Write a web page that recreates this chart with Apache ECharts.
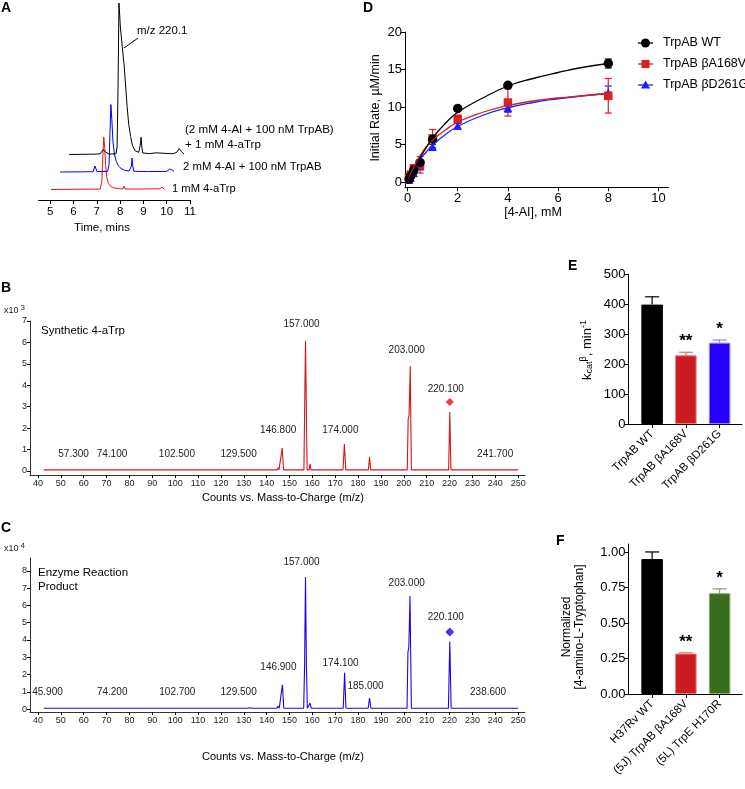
<!DOCTYPE html>
<html><head><meta charset="utf-8">
<script src="https://cdn.jsdelivr.net/npm/echarts@6/dist/echarts.min.js"></script>
<style>html,body{margin:0;padding:0;background:#fff}#c{width:745px;height:789px}</style>
</head><body><div id="c"></div><script>
// ================= DATA =================
// Panel A: LC traces (time in min, intensity in arbitrary units)
const traceRed = [[5.04,0],[5.8,0.1],[6.5,0.2],[6.58,1.3],[6.66,0.2],[7.15,0.3],[7.22,6],[7.26,22],[7.3,35],[7.34,28],[7.38,16],[7.43,8],[7.5,4],[7.6,2],[7.75,1],[8.0,0.5],[8.12,0.4],[8.17,2.2],[8.22,0.3],[8.3,0.2],[9.0,0.3],[9.7,0.5],[9.8,1.6],[9.86,0.6],[9.9,0]];
const traceBlue = [[5.04,0],[6.0,0.1],[6.46,0.2],[6.54,4],[6.62,0.3],[7.08,0.4],[7.14,5],[7.18,25],[7.22,45],[7.26,35],[7.31,20],[7.37,12],[7.45,7],[7.55,4],[7.65,2.5],[7.8,1.2],[8.0,0.6],[8.07,0.6],[8.1,4],[8.13,9.3],[8.16,4],[8.2,0.5],[8.78,0.3],[8.83,1.3],[8.87,0.3],[9.62,0.4],[9.74,2],[9.8,2.7],[9.87,1.2],[9.93,0.3]];
const traceBlack = [[5.04,0],[6.0,0.2],[6.07,1.3],[6.12,0.2],[6.38,0.5],[6.5,3.3],[6.62,1.5],[6.75,0.3],[7.05,0.4],[7.1,5],[7.14,45],[7.18,101],[7.24,85],[7.32,72],[7.4,60],[7.47,45],[7.53,32],[7.6,20],[7.68,12],[7.76,6],[7.87,2.5],[8.03,1.5],[8.09,6],[8.13,11.5],[8.16,5],[8.2,1],[8.5,0.6],[8.77,1.1],[8.82,0.5],[9.5,0.5],[9.66,1.5],[9.76,4],[9.86,2],[9.97,0.3]];
const timeTicks = [5,6,7,8,9,10,11];

// Panels B and C: mass spectra (m/z, counts)
const specB = [[42.5,0.05],[57,0.05],[57.3,0.1],[57.6,0.05],[73.8,0.05],[74.1,0.1],[74.4,0.05],[129.2,0.05],[129.5,0.09],[129.8,0.05],[131.2,0.05],[131.5,0.08],[131.8,0.05],[144.6,0.05],[145,0.15],[145.4,0.05],[146.2,0.05],[146.8,1.07],[147.4,0.05],[156.3,0.05],[156.7,3.5],[157,6.07],[157.3,3.5],[157.7,0.05],[158.6,0.05],[159,0.33],[159.4,0.05],[173.4,0.05],[174,1.26],[174.6,0.05],[184.5,0.05],[185,0.65],[185.5,0.05],[201.5,0.05],[201.9,2.4],[202.3,2.6],[202.8,4.9],[203.3,0.05],[219.6,0.05],[220.1,2.75],[220.6,0.05],[241.4,0.05],[241.7,0.07],[242,0.05],[250,0.05]];
const specC = [[42.5,0.05],[73.7,0.05],[74.2,0.14],[74.7,0.05],[129.6,0.05],[130,0.15],[130.4,0.05],[131.5,0.05],[132,0.1],[132.5,0.08],[133,0.1],[133.4,0.05],[144.5,0.05],[145,0.18],[145.5,0.05],[146.3,0.05],[146.9,1.4],[147.5,0.05],[156.2,0.05],[156.6,2.5],[157,7.65],[157.4,2.5],[157.8,0.05],[158.6,0.05],[159,0.35],[159.5,0.05],[166.6,0.05],[167,0.09],[167.4,0.05],[173.5,0.05],[174.1,2.1],[174.7,0.05],[184.4,0.05],[185,0.64],[185.6,0.05],[201.4,0.05],[201.8,3.3],[202.2,3.6],[202.7,6.55],[203.3,0.05],[219.5,0.05],[220.1,3.9],[220.7,0.05],[250,0.05]];
const peaksB = [57.3,74.1,102.5,129.5,146.8,157.0,174.0,203.0,220.1,241.7];
const peaksC = [45.9,74.2,102.7,129.5,146.9,157.0,174.1,185.0,203.0,220.1,238.6];
const markB = [[220.1,3.22]];
const markC = [[220.1,4.46]];
const mzTicks = [40,50,60,70,80,90,100,110,120,130,140,150,160,170,180,190,200,210,220,230,240,250];
const countTicksB = [0,1,2,3,4,5,6,7];
const countTicksC = [0,1,2,3,4,5,6,7,8];

// Panel D: kinetics
const conc = [0.0625,0.125,0.25,0.5,1,2,4,8];
const rateWT = [0.4,0.8,1.6,2.6,5.7,9.8,12.9,15.8];
const errWT = [0.1,0.1,0.2,0.2,0.3,0.3,0.3,0.6];
const rateA168V = [0.5,1.0,1.8,2.3,5.8,8.4,10.6,11.5];
const errA168V = [0.2,0.3,0.5,1.1,1.2,0.5,1.8,2.3];
const rateD261G = [0.3,0.6,1.2,2.1,4.7,7.5,9.9,11.9];
const errD261G = [0.1,0.1,0.2,0.3,0.3,0.3,0.6,0.9];
const fitX = [0,0.25,0.5,0.75,1,1.5,2,3,4,5,6,7,8];
const fitWT = [0,1.6,3.2,4.6,5.9,7.8,9.3,11.2,12.8,13.8,14.6,15.3,15.8];
const fitA168V = [0,2.0,3.5,4.7,5.6,6.9,8.0,9.3,10.2,10.8,11.2,11.5,11.8];
const fitD261G = [0,1.6,3.0,4.0,4.9,6.3,7.4,8.9,9.9,10.6,11.1,11.5,11.8];
const concTicks = [0,2,4,6,8,10];
const rateTicks = [0,5,10,15,20];
const seriesNamesD = ['TrpAB WT','TrpAB βA168V','TrpAB βD261G'];

// Panel E
const enzymes = ['TrpAB WT','TrpAB βA168V','TrpAB βD261G'];
const kcat = [398,229,271];
const kcatErr = [26,10,9];
const kcatSig = ['','**','*'];
const kcatTicks = [0,100,200,300,400,500];

// Panel F
const strains = ['H37Rv WT','(5J) TrpAB βA168V','(5L) TrpE H170R'];
const normConc = [0.95,0.285,0.71];
const normErr = [0.05,0.005,0.03];
const normSig = ['','**','*'];
const normTicks = [0,0.25,0.5,0.75,1.0];

// ================= STYLE / LAYOUT =================
const FF = 'Arial, "Liberation Sans", Helvetica, sans-serif';
const RED = '#d61f26', BLUE = '#1f1fff', BLACK = '#000';
const chart = echarts.init(document.getElementById('c'), null, {renderer:'canvas'});

const grids = [
  {left:38.5, top:39.5, width:151.5, height:160.5},   // 0 A red
  {left:47.5, top:22, width:151.5, height:160.5},     // 1 A blue
  {left:56.5, top:4.5, width:151.5, height:160.5},    // 2 A black
  {left:30, top:321, width:495, height:154},          // 3 B
  {left:30, top:558, width:495, height:154},          // 4 C
  {left:405, top:32, width:263.5, height:155.25},     // 5 D
  {left:628.5, top:274, width:113.5, height:150},     // 6 E
  {left:628.5, top:544, width:113.5, height:150}      // 7 F
];

function axis(gi, min, max, opts){
  const base = {type:'value', gridIndex:gi, min, max, splitLine:{show:false},
    axisLine:{show:true, onZero:false, lineStyle:{color:'#000', width:1}},
    axisTick:{show:true, length:4, lineStyle:{color:'#000', width:1}},
    axisLabel:{color:'#000', fontSize:12, fontFamily:FF}};
  const o = Object.assign({}, base, opts||{});
  if (opts && opts.axisTick) o.axisTick = Object.assign({}, base.axisTick, opts.axisTick);
  if (opts && opts.axisLabel) o.axisLabel = Object.assign({}, base.axisLabel, opts.axisLabel);
  if (opts && opts.axisLine) o.axisLine = Object.assign({}, base.axisLine, opts.axisLine);
  return o;
}
const hidden = gi => ({type:'value', gridIndex:gi, show:false});

const xAxis = [
  axis(0, 4.5, 11, {axisLabel:{fontSize:11.5, margin:6, customValues:timeTicks}, axisTick:{customValues:timeTicks, length:4}}),
  Object.assign(hidden(1), {min:4.5, max:11}),
  Object.assign(hidden(2), {min:4.5, max:11}),
  axis(3, 36.5, 253, {axisLabel:{fontSize:9, margin:4, color:'#222', customValues:mzTicks}, axisTick:{customValues:mzTicks, length:3}, axisLine:{lineStyle:{color:'#333', width:1}}}),
  axis(4, 36.5, 253, {axisLabel:{fontSize:9, margin:4, color:'#222', customValues:mzTicks}, axisTick:{customValues:mzTicks, length:3}, axisLine:{lineStyle:{color:'#333', width:1}}}),
  axis(5, -0.1, 10.4, {axisLabel:{customValues:concTicks, margin:5, fontSize:13}, axisTick:{customValues:concTicks}}),
  axis(6, -0.7, 2.663, {axisLabel:{customValues:[0,1,2], rotate:45, margin:8, fontSize:11.5, formatter:v=>enzymes[Math.round(v)]}, axisTick:{customValues:[0,1,2]}}),
  axis(7, -0.7, 2.663, {axisLabel:{customValues:[0,1,2], rotate:45, margin:8, fontSize:11.5, formatter:v=>strains[Math.round(v)]}, axisTick:{customValues:[0,1,2]}})
];
const yAxis = [
  Object.assign(hidden(0), {min:-7, max:100}),
  Object.assign(hidden(1), {min:-7, max:100}),
  Object.assign(hidden(2), {min:-7, max:100}),
  axis(3, -0.19, 7, {axisLabel:{fontSize:9, margin:3, color:'#222', customValues:countTicksB}, axisTick:{customValues:countTicksB, length:3}, axisLine:{lineStyle:{color:'#333', width:1}}}),
  axis(4, -0.17, 8.75, {axisLabel:{fontSize:9, margin:3, color:'#222', customValues:countTicksC}, axisTick:{customValues:countTicksC, length:3}, axisLine:{lineStyle:{color:'#333', width:1}}}),
  axis(5, -0.7, 20, {axisLabel:{customValues:rateTicks, margin:3, fontSize:13}, axisTick:{customValues:rateTicks}}),
  axis(6, 0, 500, {axisLabel:{customValues:kcatTicks, margin:3, fontSize:13}, axisTick:{customValues:kcatTicks}}),
  axis(7, 0, 1.056, {axisLabel:{customValues:normTicks, margin:3, fontSize:13, formatter:v=>v.toFixed(2)}, axisTick:{customValues:normTicks}})
];

function lineSeries(gi, data, color, width, smooth){
  return {type:'line', xAxisIndex:gi, yAxisIndex:gi, data, symbol:'none', smooth:!!smooth, clip:false, silent:true,
    lineStyle:{color, width:width||1}, animation:false};
}
function errSeries(gi, xs, ys, es, colors, capW, upOnly, stars){
  return {type:'custom', xAxisIndex:gi, yAxisIndex:gi, silent:true, animation:false, clip:false,
    data: xs.map((x,i)=>[x, ys[i], es[i]]),
    renderItem:(p, api)=>{
      const x=api.value(0), y=api.value(1), e=api.value(2);
      const hi = api.coord([x, y+e]);
      const lo = upOnly ? api.coord([x, y]) : api.coord([x, y-e]);
      const color = Array.isArray(colors) ? colors[p.dataIndex] : colors;
      const st = {stroke:color, lineWidth:1.2};
      const ch = [
        {type:'line', shape:{x1:hi[0], y1:hi[1], x2:lo[0], y2:lo[1]}, style:st},
        {type:'line', shape:{x1:hi[0]-capW/2, y1:hi[1], x2:hi[0]+capW/2, y2:hi[1]}, style:st}
      ];
      if (!upOnly) ch.push({type:'line', shape:{x1:lo[0]-capW/2, y1:lo[1], x2:lo[0]+capW/2, y2:lo[1]}, style:st});
      if (stars && stars[p.dataIndex]) ch.push({type:'text', x:hi[0], y:hi[1]-2, style:{text:stars[p.dataIndex], font:'bold 17px '+FF, fill:'#000', align:'center', verticalAlign:'bottom'}});
      return {type:'group', children:ch};
    }};
}
function pointSeries(gi, xs, ys, symbol, size, color){
  return {type:'scatter', xAxisIndex:gi, yAxisIndex:gi, silent:true, animation:false,
    data: xs.map((x,i)=>[x, ys[i]]), symbol, symbolSize:size, itemStyle:{color, opacity:1}};
}
function peakLabels(gi, peaks, levels){
  return {type:'custom', xAxisIndex:gi, yAxisIndex:gi, silent:true, animation:false, clip:false,
    data: peaks.map((m,i)=>[m, levels[i]]),
    renderItem:(p, api)=>{
      const pt = api.coord([api.value(0), api.value(1)]);
      return {type:'text', x:pt[0]-4, y:pt[1], style:{text:peaks[p.dataIndex].toFixed(3), font:'10px '+FF, fill:'#222', align:'center', verticalAlign:'middle'}};
    }};
}
function bars(gi, vals, colors, borders){
  return {type:'bar', xAxisIndex:gi, yAxisIndex:gi, silent:true, animation:false, barWidth:21.5,
    data: vals.map((v,i)=>({value:[i, v], itemStyle:{color:colors[i], borderColor:borders[i], borderWidth:1}}))};
}

// label heights in data units (layout only)
const labelLevelB = [0.79,0.79,0.79,0.79,1.91,6.86,1.91,5.65,3.83,0.79];
const labelLevelC = [0.99,0.99,0.99,0.99,2.43,8.52,2.67,1.33,7.3,5.33,0.99];

const series = [
  lineSeries(0, traceRed, '#e0141e', 1),
  lineSeries(1, traceBlue, '#0000ff', 1),
  lineSeries(2, traceBlack, '#000', 1),
  lineSeries(3, specB, '#d4141c', 1.1),
  lineSeries(4, specC, '#2200ee', 1.1),
  {type:'scatter', xAxisIndex:3, yAxisIndex:3, data:markB, symbol:'diamond', symbolSize:8, itemStyle:{color:'#d4141c'}, silent:true, animation:false},
  {type:'scatter', xAxisIndex:4, yAxisIndex:4, data:markC, symbol:'diamond', symbolSize:9, itemStyle:{color:'#2200ee'}, silent:true, animation:false},
  peakLabels(3, peaksB, labelLevelB),
  peakLabels(4, peaksC, labelLevelC),
  // D
  lineSeries(5, fitX.map((x,i)=>[x, fitD261G[i]]), BLUE, 1.3, true),
  lineSeries(5, fitX.map((x,i)=>[x, fitA168V[i]]), RED, 1.3, true),
  lineSeries(5, fitX.map((x,i)=>[x, fitWT[i]]), BLACK, 1.3, true),
  errSeries(5, conc, rateD261G, errD261G, BLUE, 7, false),
  pointSeries(5, conc, rateD261G, 'triangle', 8.5, BLUE),
  errSeries(5, conc, rateA168V, errA168V, RED, 7, false),
  pointSeries(5, conc, rateA168V, 'rect', 8.5, RED),
  errSeries(5, conc, rateWT, errWT, BLACK, 7, false),
  pointSeries(5, conc, rateWT, 'circle', 9.5, BLACK),
  // E
  bars(6, kcat, ['#000','#cc1b22','#2500ff'], ['#000','#e87a7e','#8a80ff']),
  errSeries(6, [0,1,2], kcat, kcatErr, ['#000','#e07075','#8a80ff'], 14, true, kcatSig),
  // F
  bars(7, normConc, ['#000','#cc1b22','#3b6e1c'], ['#000','#e87a7e','#8fae78']),
  errSeries(7, [0,1,2], normConc, normErr, ['#000','#e07075','#7f9f66'], 14, true, normSig)
];

// text / annotations
function txt(x, y, text, size, opts){
  return Object.assign({type:'text', x, y, silent:true, style:Object.assign({text, font:(size||11)+'px '+FF, fill:'#000', align:'left', verticalAlign:'middle'}, (opts&&opts.style)||{})}, opts&&opts.rotation!=null?{rotation:opts.rotation}:{});
}
const bold = s => ({style:{font:'bold '+s+'px '+FF}});
const graphic = [
  // panel letters
  txt(1, 8, 'A', 14, bold(14)),
  txt(363, 8, 'D', 14, bold(14)),
  txt(1, 288, 'B', 14, bold(14)),
  txt(1, 528, 'C', 14, bold(14)),
  txt(568, 266, 'E', 14, bold(14)),
  txt(556, 541, 'F', 14, bold(14)),
  // panel A annotations
  {type:'line', silent:true, shape:{x1:124, y1:48, x2:138, y2:38}, style:{stroke:'#000', lineWidth:1}},
  txt(137, 31, 'm/z 220.1', 11.5),
  txt(185, 130, '(2 mM 4-AI + 100 nM TrpAB)', 11.6),
  txt(185, 145, '+ 1 mM 4-aTrp', 11.6),
  txt(183, 167, '2 mM 4-AI + 100 nM TrpAB', 11.4),
  txt(172, 189, '1 mM 4-aTrp', 11.2),
  txt(102, 228, 'Time, mins', 11.5, {style:{align:'center'}}),
  // panel B / C annotations
  {type:'text', x:4, y:311, silent:true, style:{text:'x10{s|3}', font:'9px '+FF, fill:'#222', verticalAlign:'middle', rich:{s:{fontSize:8, verticalAlign:'top', padding:[0,0,6,2]}}}},
  {type:'text', x:4, y:549, silent:true, style:{text:'x10{s|4}', font:'9px '+FF, fill:'#222', verticalAlign:'middle', rich:{s:{fontSize:8, verticalAlign:'top', padding:[0,0,6,2]}}}},
  txt(41, 331, 'Synthetic 4-aTrp', 11.5),
  txt(38, 573, 'Enzyme Reaction', 11.5),
  txt(38, 587, 'Product', 11.5),
  txt(283, 498, 'Counts vs. Mass-to-Charge (m/z)', 11, {style:{align:'center'}}),
  txt(283, 757, 'Counts vs. Mass-to-Charge (m/z)', 11, {style:{align:'center'}}),
  // panel D axis titles
  txt(376, 108, 'Initial Rate, µM/min', 12.5, {rotation:Math.PI/2, style:{align:'center'}}),
  txt(533, 213, '[4-AI], mM', 12.5, {style:{align:'center'}}),
  // panel E / F axis titles
  {type:'text', x:587, y:350, rotation:Math.PI/2, silent:true, style:{text:'k{sub|cat}{sup|β}{n|, min}{sup|-1}', font:'13px '+FF, fill:'#000', align:'center', verticalAlign:'middle',
    rich:{sub:{fontSize:9, padding:[6,0,0,0], fontFamily:FF}, sup:{fontSize:9, padding:[0,0,7,0], fontFamily:FF}, n:{fontSize:13, fontFamily:FF}}}},
  txt(567, 627, 'Normalized', 12, {rotation:Math.PI/2, style:{align:'center'}}),
  txt(580, 627, '[4-amino-L-Tryptophan]', 12, {rotation:Math.PI/2, style:{align:'center'}})
];
// D legend
const legCols = [BLACK, RED, BLUE];
const legY = [43, 64, 85];
seriesNamesD.forEach((name, i)=>{
  const y = legY[i];
  graphic.push({type:'line', silent:true, shape:{x1:638, y1:y, x2:653, y2:y}, style:{stroke:legCols[i], lineWidth:1.3}});
  if (i===0) graphic.push({type:'circle', silent:true, shape:{cx:645.5, cy:y, r:4.5}, style:{fill:BLACK}});
  if (i===1) graphic.push({type:'rect', silent:true, shape:{x:641.5, y:y-4, width:8, height:8}, style:{fill:RED}});
  if (i===2) graphic.push({type:'polygon', silent:true, shape:{points:[[645.5,y-4.5],[650,y+3.5],[641,y+3.5]]}, style:{fill:BLUE}});
  graphic.push(txt(663, y, name, 12.5));
});

chart.setOption({animation:false, backgroundColor:'#fff', grid:grids, xAxis, yAxis, series, graphic});
</script></body></html>
